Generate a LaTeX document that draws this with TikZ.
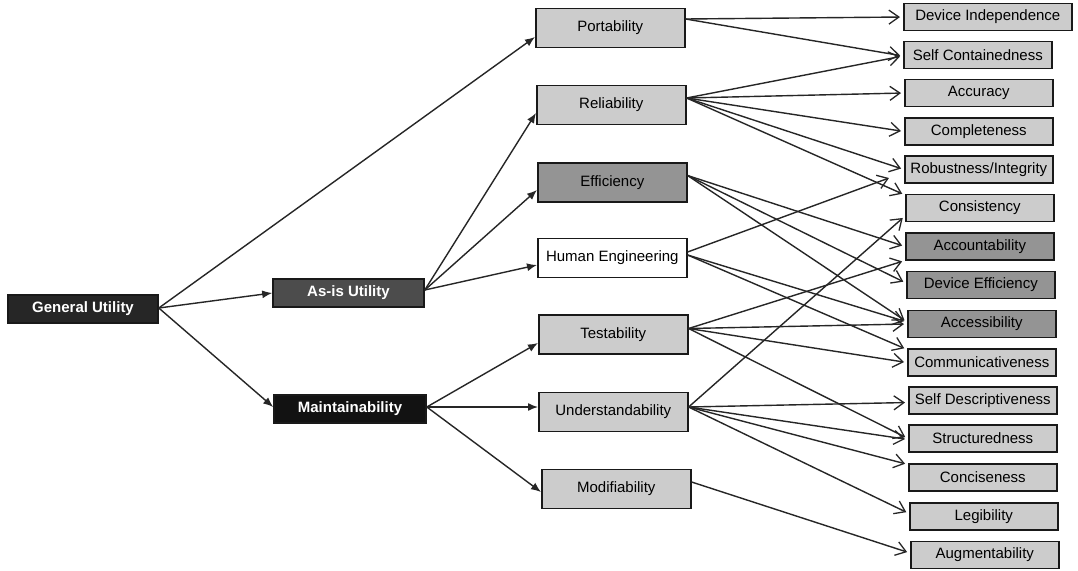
\documentclass[tikz,border=0pt]{standalone}
\usepackage{fontspec}
\setmainfont{Liberation Sans}
\usetikzlibrary{arrows.meta}
\begin{document}
\begin{tikzpicture}[x=1pt,y=-1pt,
 box/.style={draw=black!90, line width=1.6pt, inner sep=0pt, font=\fontsize{15}{18}\selectfont, text=black},
 midbox/.style={box, minimum width=149pt, minimum height=39pt, anchor=west},
 leafbox/.style={box, minimum width=148pt, minimum height=27pt, anchor=west},
 rootbox/.style={box, minimum height=28pt, text=white, font=\fontsize{15}{18}\selectfont\bfseries},
 lightfill/.style={fill=black!20},
 midfill/.style={fill=black!42},
 larr/.style={draw=black!85, line width=1.4pt, -{Latex[length=10pt,width=8pt]}},
 rarr/.style={draw=black!85, line width=1.4pt, -{Straight Barb[length=10pt,width=14pt,line width=1.3pt]}, shorten >=3pt},
]
\useasboundingbox (0,0) rectangle (1078,570);
\fill[white] (0,0) rectangle (1078,570);

% root level
\node[rootbox, fill=black!85, minimum width=150pt] (gen) at (83,309) {General Utility};
\node[rootbox, fill=black!70, minimum width=151pt] (asis) at (348.5,293) {As-is Utility};
\node[rootbox, fill=black!93, minimum width=152pt] (maint) at (350,409) {Maintainability};

% middle level
\node[midbox, lightfill] (port) at (535,28) {Portability};
\node[midbox, lightfill] (rel) at (536,105) {Reliability};
\node[midbox, midfill] (eff) at (537,182.5) {Efficiency};
\node[midbox, fill=white] (he) at (537,258) {Human Engineering};
\node[midbox, lightfill] (test) at (538,334.5) {Testability};
\node[midbox, lightfill] (und) at (538,412) {Understandability};
\node[midbox, lightfill] (mod) at (541,489) {Modifiability};

% leaves
\node[leafbox, lightfill, minimum width=168pt] (di) at (903,17) {Device Independence};
\node[leafbox, lightfill] (sc) at (903,55) {Self Containedness};
\node[leafbox, lightfill] (acc) at (904,93) {Accuracy};
\node[leafbox, lightfill] (comp) at (904,131.5) {Completeness};
\node[leafbox, lightfill] (rob) at (904,169.5) {Robustness/Integrity};
\node[leafbox, lightfill] (cons) at (905,208) {Consistency};
\node[leafbox, midfill] (acct) at (905,246.5) {Accountability};
\node[leafbox, midfill] (de) at (906,285) {Device Efficiency};
\node[leafbox, midfill] (accs) at (907,324) {Accessibility};
\node[leafbox, lightfill] (comm) at (907,362.5) {Communicativeness};
\node[leafbox, lightfill] (sd) at (908,400.5) {Self Descriptiveness};
\node[leafbox, lightfill] (str) at (908,438.5) {Structuredness};
\node[leafbox, lightfill] (conc) at (908,477.5) {Conciseness};
\node[leafbox, lightfill] (leg) at (909,516.5) {Legibility};
\node[leafbox, lightfill] (aug) at (910,555) {Augmentability};

% left connectors
\draw[larr] ([yshift=1pt]gen.east) -- ([yshift=-9pt]port.west);
\draw[larr] ([yshift=1pt]gen.east) -- (asis.west);
\draw[larr] ([yshift=1pt]gen.east) -- ([yshift=2pt]maint.west);
\draw[larr] ([yshift=3pt]asis.east) -- ([yshift=-8pt]rel.west);
\draw[larr] ([yshift=3pt]asis.east) -- ([yshift=-7.5pt]eff.west);
\draw[larr] ([yshift=3pt]asis.east) -- ([yshift=-7pt]he.west);
\draw[larr] ([yshift=2pt]maint.east) -- ([yshift=-8.5pt]test.west);
\draw[larr] ([yshift=2pt]maint.east) -- ([yshift=5pt]und.west);
\draw[larr] ([yshift=2pt]maint.east) -- ([yshift=-3pt]mod.west);

% right connectors
\draw[rarr] ([yshift=9pt]port.east) -- (di.west);
\draw[rarr] ([yshift=9pt]port.east) -- ([yshift=-1pt]sc.west);
\draw[rarr] ([yshift=7pt]rel.east) -- ([yshift=-1pt]sc.west);
\draw[rarr] ([yshift=7pt]rel.east) -- (acc.west);
\draw[rarr] ([yshift=7pt]rel.east) -- (comp.west);
\draw[rarr] ([yshift=7pt]rel.east) -- (rob.west);
\draw[rarr] ([yshift=7pt]rel.east) -- ([yshift=13pt]cons.west);
\draw[rarr] ([yshift=7pt]eff.east) -- (acct.west);
\draw[rarr] ([yshift=7pt]eff.east) -- ([yshift=2pt]de.west);
\draw[rarr] ([yshift=7pt]eff.east) -- ([yshift=2pt]accs.west);
\draw[rarr, shorten >=16pt] ([yshift=6pt]he.east) -- ([yshift=-3pt]rob.west);
\draw[rarr] ([yshift=3pt]he.east) -- ([yshift=2pt]accs.west);
\draw[rarr] ([yshift=3pt]he.east) -- ([yshift=13pt]comm.west);
\draw[rarr] ([yshift=6pt]test.east) -- ([yshift=-14pt]acct.west);
\draw[rarr] ([yshift=6pt]test.east) -- (accs.west);
\draw[rarr] ([yshift=6pt]test.east) -- (comm.west);
\draw[rarr] ([yshift=6pt]test.east) -- (str.west);
\draw[rarr] ([yshift=5pt]und.east) -- ([yshift=-8pt]cons.west);
\draw[rarr] ([yshift=5pt]und.east) -- ([yshift=-2pt]sd.west);
\draw[rarr] ([yshift=5pt]und.east) -- ([yshift=-1pt]str.west);
\draw[rarr] ([yshift=5pt]und.east) -- ([yshift=13pt]conc.west);
\draw[rarr] ([yshift=5pt]und.east) -- ([yshift=3pt]leg.west);
\draw[rarr] ([yshift=7pt]mod.east) -- ([yshift=2pt]aug.west);
\end{tikzpicture}
\end{document}
